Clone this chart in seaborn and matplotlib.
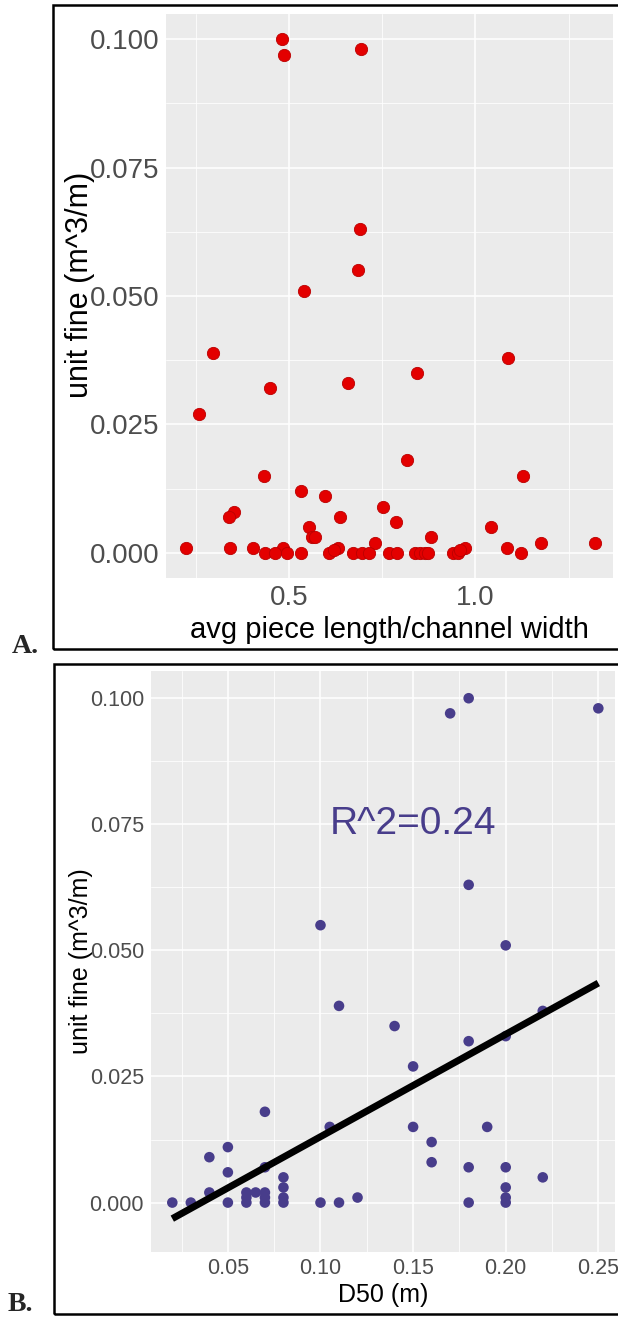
import numpy as np
import pandas as pd
import matplotlib
matplotlib.use("Agg")
import matplotlib.pyplot as plt
import seaborn as sns
from matplotlib.ticker import FixedLocator, FormatStrFormatter
from matplotlib.patches import Rectangle

# ---------------- data ----------------
# Panel A: avg piece length / channel width vs unit fine
a_ratio = [0.482, 0.486, 0.694, 0.690, 0.686, 0.541, 0.296, 1.088, 0.843, 0.658,
           0.448, 0.258, 0.817, 0.434, 1.127, 0.532, 0.597, 0.753, 0.352, 0.338,
           0.637, 0.787, 1.042, 0.554, 0.563, 0.570, 0.880, 0.731, 1.177, 1.322,
           0.224, 0.343, 0.403, 1.084, 0.485, 0.631, 0.972,
           0.435, 0.463, 0.496, 0.533, 0.608, 0.621, 0.672, 0.697, 0.715, 0.768,
           0.789, 0.838, 0.851, 0.865, 0.874, 0.941, 0.954, 0.960, 1.122]
a_fine = [0.100, 0.097, 0.098, 0.063, 0.055, 0.051, 0.039, 0.038, 0.035, 0.033,
          0.032, 0.027, 0.018, 0.015, 0.015, 0.012, 0.011, 0.009, 0.008, 0.007,
          0.007, 0.006, 0.005, 0.005, 0.003, 0.003, 0.003, 0.002, 0.002, 0.002,
          0.001, 0.001, 0.001, 0.001, 0.001, 0.001, 0.001,
          0.000, 0.000, 0.000, 0.000, 0.000, 0.0005, 0.000, 0.000, 0.000, 0.000,
          0.000, 0.000, 0.000, 0.000, 0.000, 0.000, 0.000, 0.0005, 0.000]

# Panel B: D50 vs unit fine
b_d50 = [0.17, 0.18, 0.25, 0.18, 0.10, 0.20, 0.11, 0.22, 0.14, 0.18,
         0.20, 0.15, 0.07, 0.105, 0.15, 0.19, 0.16, 0.16, 0.05, 0.04,
         0.05, 0.07, 0.18, 0.20, 0.22, 0.08, 0.08, 0.08, 0.08, 0.20,
         0.20, 0.20, 0.04, 0.02, 0.03, 0.05, 0.06, 0.06, 0.06, 0.065,
         0.07, 0.07, 0.07, 0.10, 0.11, 0.12, 0.18]
b_fine = [0.097, 0.100, 0.098, 0.063, 0.055, 0.051, 0.039, 0.038, 0.035, 0.032,
          0.033, 0.027, 0.018, 0.015, 0.015, 0.015, 0.012, 0.008, 0.011, 0.009,
          0.006, 0.007, 0.007, 0.007, 0.005, 0.005, 0.003, 0.001, 0.000, 0.003,
          0.001, 0.000, 0.002, 0.000, 0.000, 0.000, 0.002, 0.001, 0.000, 0.002,
          0.002, 0.001, 0.000, 0.000, 0.000, 0.001, 0.000]

y_ticks = [0.000, 0.025, 0.050, 0.075, 0.100]
y_minor = [0.0125, 0.0375, 0.0625, 0.0875]
a_xticks = [0.5, 1.0]
a_xminor = [0.25, 0.75, 1.25]
b_xticks = [0.05, 0.10, 0.15, 0.20, 0.25]
b_xminor = [0.025, 0.075, 0.125, 0.175, 0.225]

y_label = "unit fine (m^3/m)"
a_xlabel = "avg piece length/channel width"
b_xlabel = "D50 (m)"
r2_label = "R^2=0.24"
panel_a = "A."
panel_b = "B."

# ---------------- style ----------------
sns.set_theme(style="darkgrid")
plt.rcParams['font.family'] = ['Liberation Sans', 'DejaVu Sans']

W, H = 618, 1318
fig = plt.figure(figsize=(W / 100, H / 100), dpi=100)


def px_axes(l, t, r, b):
    return fig.add_axes([l / W, 1 - b / H, (r - l) / W, (b - t) / H])


def style(ax, xt, xm, xfmt, fs, padx, pady):
    ax.set_facecolor('#EBEBEB')
    ax.xaxis.set_major_locator(FixedLocator(xt))
    ax.xaxis.set_minor_locator(FixedLocator(xm))
    ax.yaxis.set_major_locator(FixedLocator(y_ticks))
    ax.yaxis.set_minor_locator(FixedLocator(y_minor))
    ax.xaxis.set_major_formatter(FormatStrFormatter(xfmt))
    ax.yaxis.set_major_formatter(FormatStrFormatter('%.3f'))
    ax.grid(which='major', color='white', lw=1.1)
    ax.grid(which='minor', color='white', lw=0.55)
    ax.set_axisbelow(True)
    ax.tick_params(which='minor', length=0)
    ax.tick_params(which='major', length=3, width=0.8, color='#333333',
                   labelcolor='#4D4D4D', labelsize=fs)
    ax.tick_params(axis='x', which='major', pad=padx)
    ax.tick_params(axis='y', which='major', pad=pady)
    for s in ax.spines.values():
        s.set_visible(False)


# ---------------- Panel A ----------------
axA = px_axes(165.5, 14, 613, 578)
sns.scatterplot(x=a_ratio, y=a_fine, ax=axA, color='#E30000', s=78,
                edgecolor='#BB0000', linewidth=0.6, zorder=3)
axA.set_xlim(0.169, 1.369)
axA.set_ylim(-0.0049, 0.1049)
style(axA, a_xticks, a_xminor, '%.1f', 20, 2.0, 1.2)
axA.set_xlabel(a_xlabel, fontsize=21, color='black')
axA.set_ylabel(y_label, fontsize=22, color='black')
axA.xaxis.set_label_coords(0.5, -0.068)
axA.yaxis.set_label_coords(-0.157, 0.52)

# ---------------- Panel B ----------------
axB = px_axes(151, 671, 615, 1252)
sns.scatterplot(x=b_d50, y=b_fine, ax=axB, color='#483D8B', s=58,
                edgecolor='none', zorder=3)
sns.regplot(x=b_d50, y=b_fine, ax=axB, scatter=False, ci=None, truncate=True,
            line_kws=dict(color='black', lw=5, zorder=4, solid_capstyle='butt'))
axB.set_xlim(0.0085, 0.259)
axB.set_ylim(-0.0098, 0.1054)
style(axB, b_xticks, b_xminor, '%.2f', 15.5, 1.5, 2.0)
axB.set_xlabel(b_xlabel, fontsize=18, color='black')
axB.set_ylabel(y_label, fontsize=18, color='black')
axB.xaxis.set_label_coords(0.5, -0.053)
axB.yaxis.set_label_coords(-0.125, 0.5)
axB.text(0.15, 0.075, r2_label, color='#483D8B', fontsize=28,
         ha='center', va='center')

# ---------------- frames & panel letters ----------------
fig.add_artist(Rectangle((53 / W, 1 - 649 / H), (660 - 53) / W, (649 - 5) / H,
                         transform=fig.transFigure, fill=False, ec='black', lw=1.8))
fig.add_artist(Rectangle((54 / W, 1 - 1314 / H), (660 - 54) / W, (1314 - 664) / H,
                         transform=fig.transFigure, fill=False, ec='black', lw=1.8))
fig.text(12 / W, 1 - 653 / H, panel_a, fontsize=20, fontweight='bold',
         family=['Liberation Serif', 'DejaVu Serif'], va='baseline', ha='left')
fig.text(8 / W, 1 - 1311 / H, panel_b, fontsize=20, fontweight='bold',
         family=['Liberation Serif', 'DejaVu Serif'], va='baseline', ha='left')

fig.savefig("out.png", dpi=100, facecolor='white')
